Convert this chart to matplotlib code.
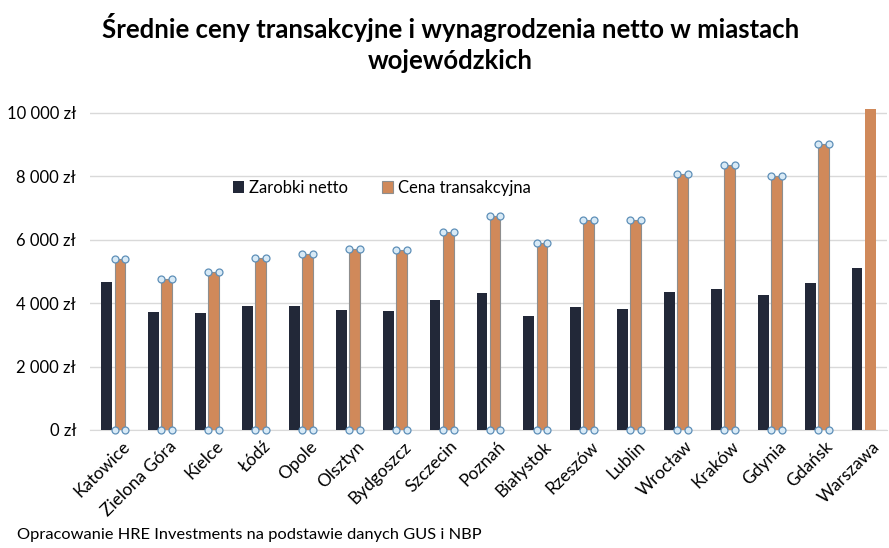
import matplotlib
matplotlib.use('Agg')
import matplotlib.pyplot as plt
import matplotlib.transforms as mtransforms
from matplotlib.ticker import FuncFormatter
import numpy as np

plt.rcParams['font.family'] = ['Lato', 'DejaVu Sans']

cities = ['Katowice', 'Zielona Góra', 'Kielce', 'Łódź', 'Opole', 'Olsztyn', 'Bydgoszcz',
          'Szczecin', 'Poznań', 'Białystok', 'Rzeszów', 'Lublin', 'Wrocław', 'Kraków',
          'Gdynia', 'Gdańsk', 'Warszawa']
zarobki = [4670, 3720, 3690, 3910, 3910, 3790, 3750, 4100, 4320, 3600, 3880, 3820,
           4350, 4450, 4260, 4640, 5110]
ceny = [5385, 4760, 4975, 5435, 5560, 5700, 5690, 6255, 6750, 5890, 6625, 6625,
        8065, 8370, 8025, 9030, 10125]
y_ticks = [0, 2000, 4000, 6000, 8000, 10000]

DARK = '#222838'
ORANGE = '#D0895A'

fig = plt.figure(figsize=(8.89, 5.48), dpi=100)
ax = fig.add_axes([90 / 889, 1 - 430 / 548, 797 / 889, (430 - 106.6) / 548])

x = np.arange(len(cities))
w = 0.23
off = 0.14
ax.bar(x - off, zarobki, width=w, color=DARK, label='Zarobki netto', zorder=3)
bars = ax.bar(x + off, ceny, width=w, color=ORANGE, label='Cena transakcyjna', zorder=3)

# obramowanie i uchwyty zaznaczenia (jak na zrzucie z Excela), bez Warszawy
for i, b in enumerate(bars):
    if cities[i] == 'Warszawa':
        continue
    b.set_edgecolor('#8E8E8E')
    b.set_linewidth(0.8)
    x0 = b.get_x()
    x1 = x0 + b.get_width()
    h = b.get_height()
    ax.plot([x0, x1, x0, x1], [h, h, 0, 0], 'o', ms=5.0, mfc='#D8EAF6', mec='#5E8FB8',
            mew=0.9, ls='none', zorder=5, clip_on=False)

ax.set_xlim(-0.5, len(cities) - 0.5)
ax.set_ylim(0, 10200)
ax.set_yticks(y_ticks)
ax.yaxis.set_major_formatter(FuncFormatter(lambda v, p: f'{int(v):,} zł'.replace(',', ' ')))
ax.grid(axis='y', color='#D9D9D9', linewidth=1, zorder=0)
ax.set_axisbelow(True)
for s in ['top', 'right', 'left']:
    ax.spines[s].set_visible(False)
ax.spines['bottom'].set_color('#D9D9D9')
ax.tick_params(axis='both', length=0, labelsize=12, colors='#000000')
ax.tick_params(axis='y', pad=10)
ax.set_xticks(x)
ax.set_xticklabels(cities, rotation=45, ha='right', rotation_mode='anchor', fontsize=12.5)
ax.tick_params(axis='x', pad=6)
shift = mtransforms.ScaledTranslation(8 / 100, 0, fig.dpi_scale_trans)
for lab in ax.get_xticklabels():
    lab.set_transform(lab.get_transform() + shift)

leg = ax.legend(loc='upper left', bbox_to_anchor=(0.16, 0.82), ncol=2, frameon=False,
                fontsize=12, handlelength=0.7, handleheight=0.7, handletextpad=0.3,
                columnspacing=2.0)

fig.text(0.507, 1 - 27 / 548, 'Średnie ceny transakcyjne i wynagrodzenia netto w miastach',
         ha='center', va='center', fontsize=18.5, fontweight='bold')
fig.text(0.507, 1 - 61 / 548, 'wojewódzkich', ha='center', va='center',
         fontsize=18.5, fontweight='bold')
fig.text(17 / 889, 1 - 535 / 548, 'Opracowanie HRE Investments na podstawie danych GUS i NBP',
         ha='left', va='center', fontsize=11.8)

fig.savefig('out.png', dpi=100)
